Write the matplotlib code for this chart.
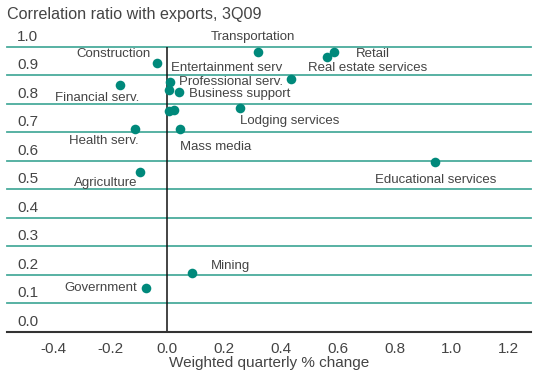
import matplotlib
matplotlib.use("Agg")
import matplotlib.pyplot as plt

# data
sectors = ["Transportation", "Retail", "Real estate services", "Construction",
           "Entertainment serv", "Financial serv.", "Professional serv.",
           "", "Business support", "", "", "Lodging services", "Health serv.",
           "Mass media", "Agriculture", "Educational services", "Mining",
           "Government"]
x_chg = [0.318, 0.587, 0.561, -0.036, 0.437, -0.168, 0.008, 0.005, 0.040,
         0.005, 0.025, 0.255, -0.115, 0.043, -0.095, 0.942, 0.087, -0.074]
y_corr = [0.983, 0.981, 0.966, 0.945, 0.888, 0.867, 0.878, 0.849, 0.841,
          0.775, 0.779, 0.785, 0.711, 0.712, 0.562, 0.598, 0.208, 0.154]

# label anchor positions (data coords) and alignment
label_pos = {
    "Transportation":       (0.30, 1.035, "center"),
    "Construction":         (-0.06, 0.975, "right"),
    "Retail":               (0.725, 0.975, "center"),
    "Real estate services": (0.495, 0.925, "left"),
    "Entertainment serv":   (0.012, 0.925, "left"),
    "Professional serv.":   (0.04, 0.876, "left"),
    "Business support":     (0.075, 0.836, "left"),
    "Financial serv.":      (-0.10, 0.820, "right"),
    "Lodging services":     (0.255, 0.740, "left"),
    "Health serv.":         (-0.10, 0.670, "right"),
    "Mass media":           (0.043, 0.650, "left"),
    "Educational services": (0.73, 0.535, "left"),
    "Agriculture":          (-0.105, 0.523, "right"),
    "Mining":               (0.155, 0.233, "left"),
    "Government":           (-0.105, 0.154, "right"),
}

yticks = [0.0, 0.1, 0.2, 0.3, 0.4, 0.5, 0.6, 0.7, 0.8, 0.9, 1.0]
xticks = [-0.4, -0.2, 0.0, 0.2, 0.4, 0.6, 0.8, 1.0, 1.2]

TEAL = "#00897b"
GRID = "#4aab9c"
TXT = "#444444"

plt.rcParams["font.family"] = ["Liberation Sans", "DejaVu Sans"]

fig = plt.figure(figsize=(5.34, 3.73), dpi=100)
ax = fig.add_axes([0.013, 0.11, 0.981, 0.764])
ax.set_xlim(-0.565, 1.28)
ax.set_ylim(0, 1.0)

for v in yticks[1:]:
    ax.axhline(v, color=GRID, lw=1.3, zorder=1, clip_on=False)
ax.axvline(0, color="#111111", lw=1.1, zorder=2)

ax.scatter(x_chg, y_corr, s=48, color=TEAL, zorder=3, linewidths=0,
           clip_on=False)

for name, (tx, ty, ha) in label_pos.items():
    ax.text(tx, ty, name, ha=ha, va="center", fontsize=9.5, color=TXT,
            clip_on=False)

for v in yticks:
    ax.text(-0.53, v + 0.012, f"{v:.1f}", ha="left", va="bottom",
            fontsize=11, color=TXT)

for s in ["top", "right", "left"]:
    ax.spines[s].set_visible(False)
ax.spines["bottom"].set_color("#333333")
ax.spines["bottom"].set_linewidth(1.5)
ax.set_yticks([])
ax.set_xticks(xticks)
ax.set_xticklabels([f"{v:.1f}" for v in xticks], fontsize=11, color=TXT)
ax.tick_params(axis="x", length=0, pad=7)
ax.set_xlabel("Weighted quarterly % change", fontsize=11, color=TXT,
              labelpad=0)

fig.text(0.013, 0.96, "Correlation ratio with exports, 3Q09", fontsize=11.6,
         color=TXT, ha="left", va="center")

fig.savefig("out.png", dpi=100)
